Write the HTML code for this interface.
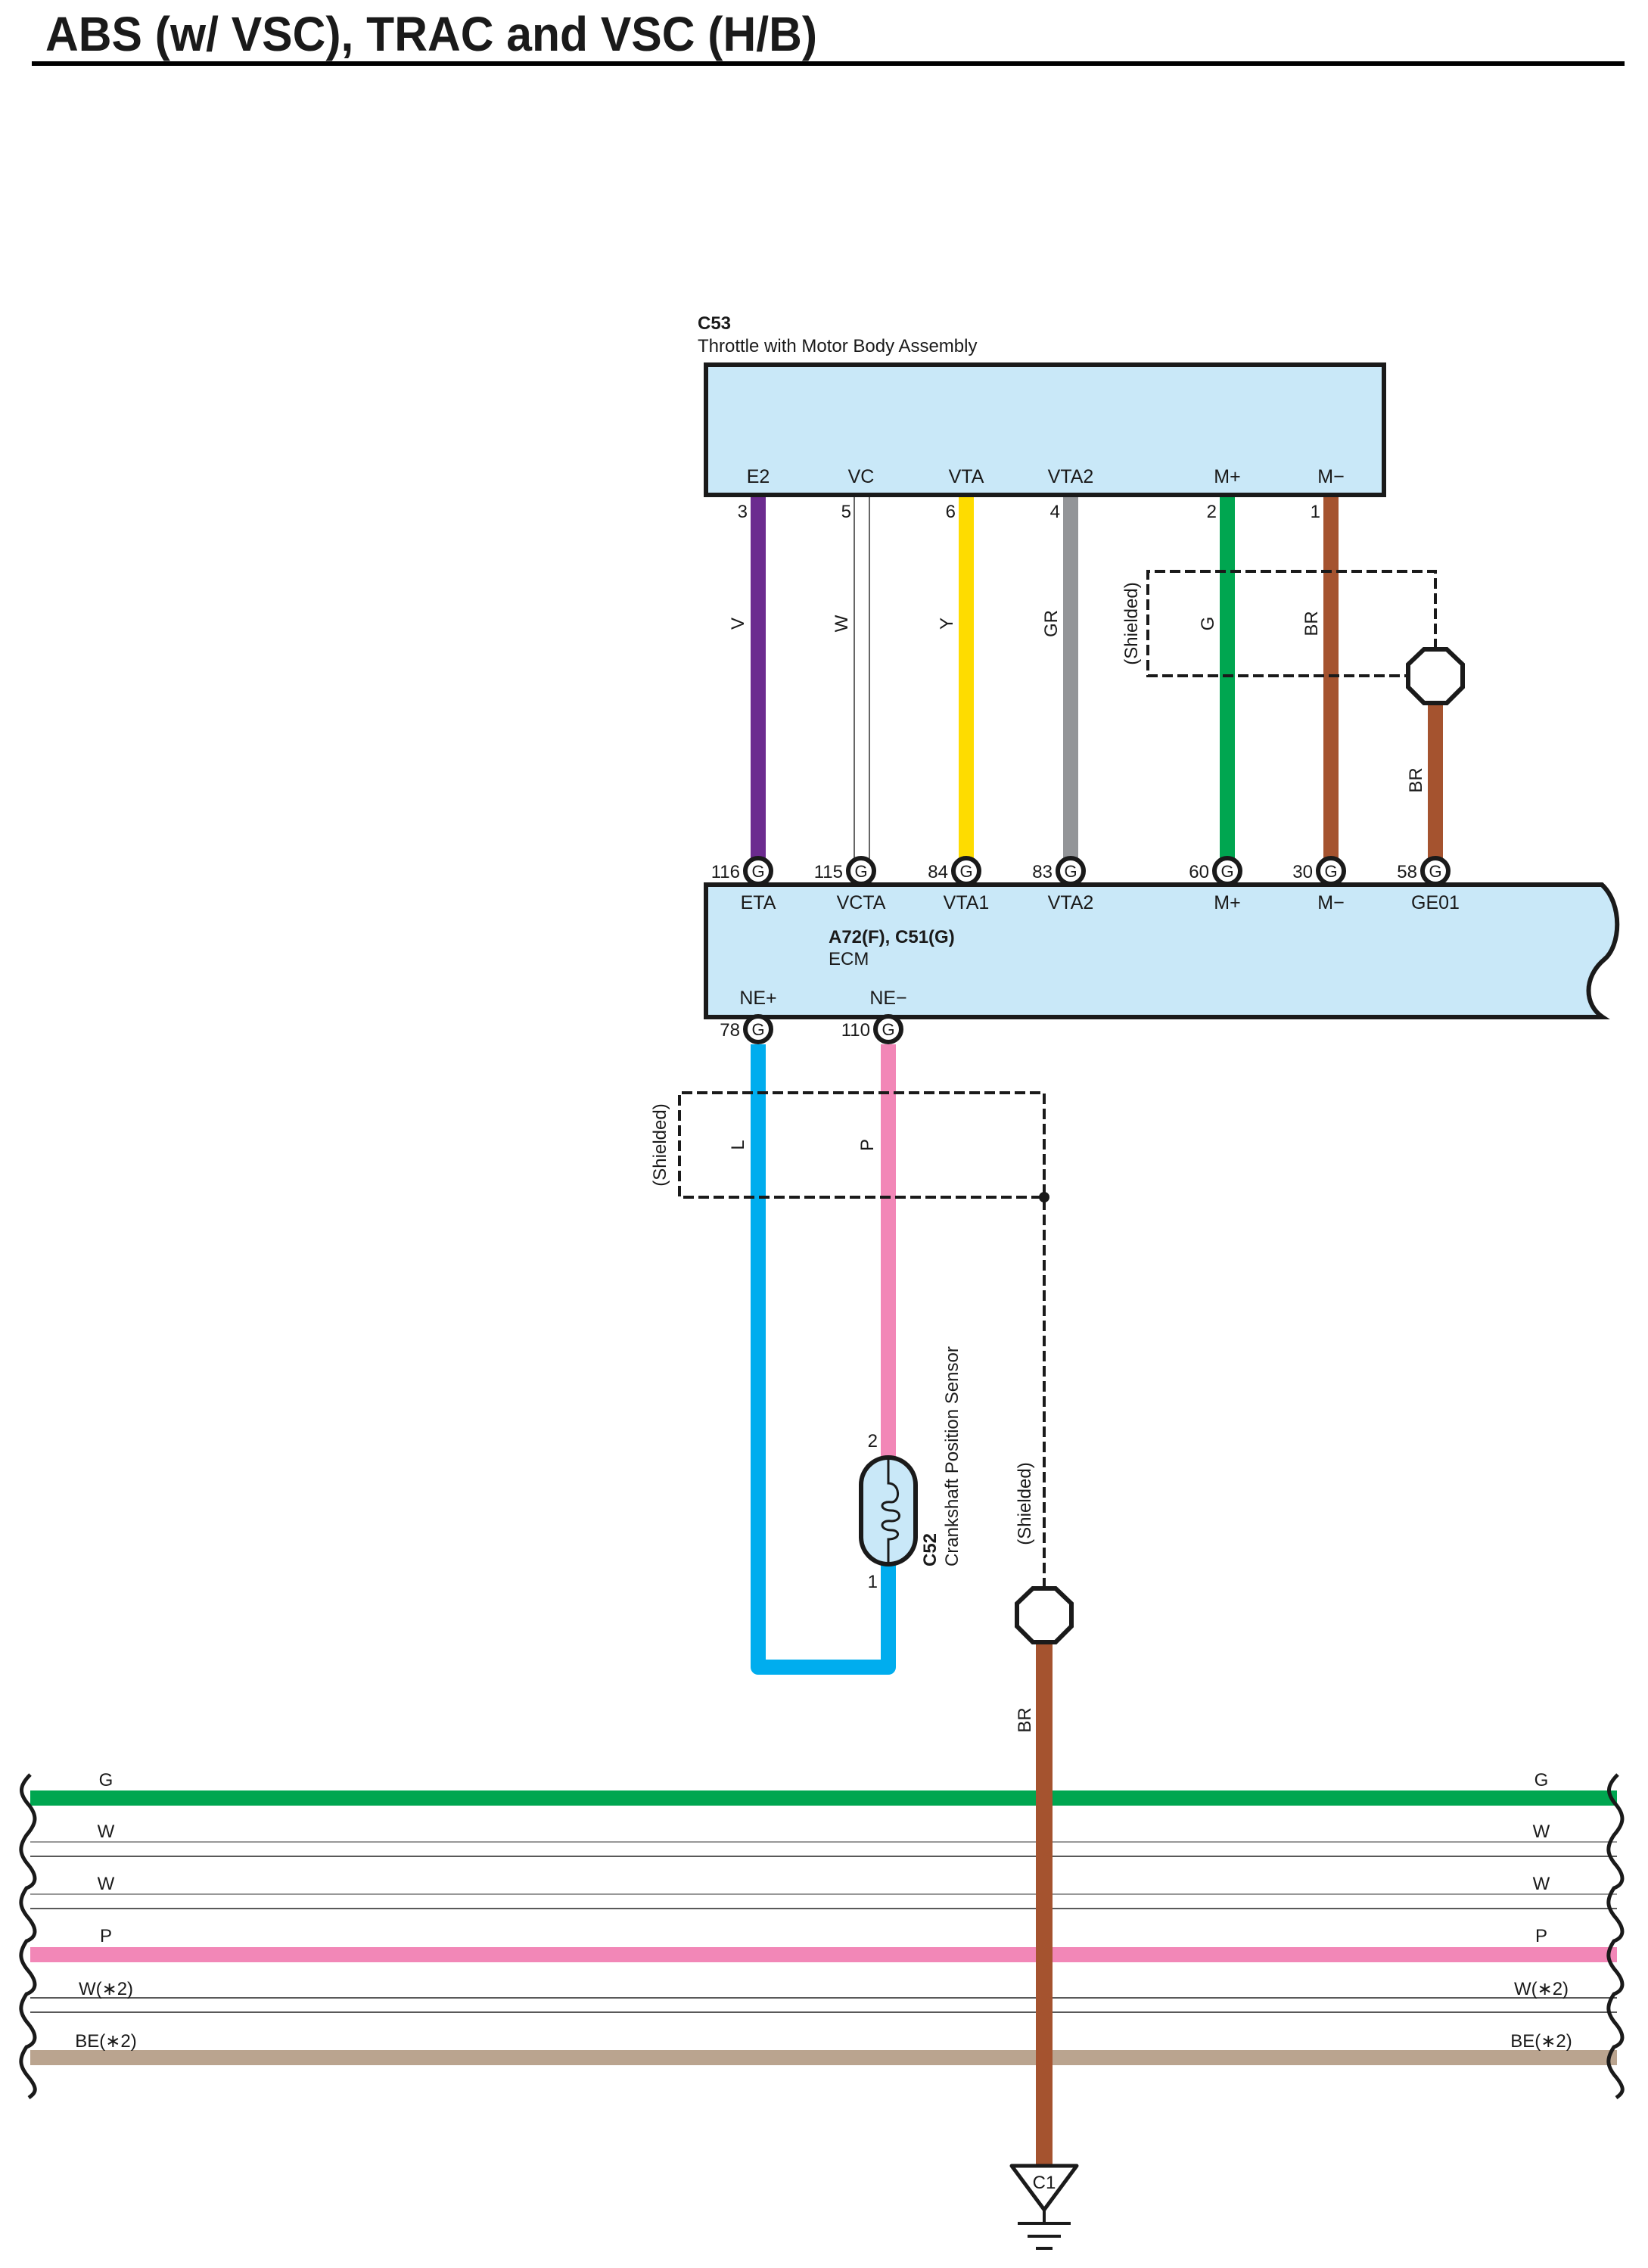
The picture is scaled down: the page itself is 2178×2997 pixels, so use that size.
<!DOCTYPE html>
<html><head><meta charset="utf-8"><style>body{margin:0;background:#fff}svg{display:block}text{font-family:"Liberation Sans",sans-serif;fill:#1a1a1a}</style></head><body>
<svg width="2178" height="2997" viewBox="0 0 2178 2997" xmlns="http://www.w3.org/2000/svg">
<text x="60" y="67" font-size="64" font-weight="bold" textLength="1020" lengthAdjust="spacingAndGlyphs" fill="#000">ABS (w/ VSC), TRAC and VSC (H/B)</text>
<rect x="42" y="81" width="2105" height="6" fill="#000"/>

<text x="922" y="435" font-size="24" font-weight="bold">C53</text>
<text x="922" y="465" font-size="24">Throttle with Motor Body Assembly</text>
<rect x="933" y="482" width="896" height="172" fill="#c9e8f8" stroke="#1a1a1a" stroke-width="6"/>
<g font-size="25" text-anchor="middle">
<text x="1002" y="638">E2</text><text x="1138" y="638">VC</text><text x="1277" y="638">VTA</text><text x="1415" y="638">VTA2</text><text x="1622" y="638">M+</text><text x="1759" y="638">M−</text>
</g>
<rect x="992" y="657" width="20" height="494" fill="#6c2b8f"/>
<line x1="1129" y1="657" x2="1129" y2="1151" stroke="#333" stroke-width="1.5"/>
<line x1="1149" y1="657" x2="1149" y2="1151" stroke="#333" stroke-width="1.5"/>
<rect x="1267" y="657" width="20" height="494" fill="#fedc00"/>
<rect x="1405" y="657" width="20" height="494" fill="#939598"/>
<rect x="1612" y="657" width="20" height="494" fill="#00a650"/>
<rect x="1749" y="657" width="20" height="494" fill="#a5532f"/>
<rect x="1887" y="893" width="20" height="258" fill="#a5532f"/>
<g font-size="24" text-anchor="end">
<text x="988" y="684">3</text><text x="1125" y="684">5</text><text x="1263" y="684">6</text><text x="1401" y="684">4</text><text x="1608" y="684">2</text><text x="1745" y="684">1</text>
</g>
<path d="M1897,858 L1897,755 L1517,755 L1517,893 L1861,893" fill="none" stroke="#1a1a1a" stroke-width="4" stroke-dasharray="14,6"/>
<polygon points="1882,858 1912,858 1933,878 1933,908 1912,929 1882,929 1861,908 1861,878" fill="#fff" stroke="#1a1a1a" stroke-width="6"/>
<g font-size="24" text-anchor="middle">
<text transform="translate(983,824) rotate(-90)">V</text>
<text transform="translate(1120,824) rotate(-90)">W</text>
<text transform="translate(1259,824) rotate(-90)">Y</text>
<text transform="translate(1397,824) rotate(-90)">GR</text>
<text transform="translate(1503,824) rotate(-90)">(Shielded)</text>
<text transform="translate(1604,824) rotate(-90)">G</text>
<text transform="translate(1741,824) rotate(-90)">BR</text>
<text transform="translate(1879,1031) rotate(-90)">BR</text>
</g>

<path d="M933,1169 L2117,1169 C2145,1195 2142,1250 2120,1268 C2092,1292 2094,1328 2118,1344 L933,1344 Z" fill="#c9e8f8" stroke="#1a1a1a" stroke-width="6"/>
<g font-size="25" text-anchor="middle">
<text x="1002" y="1201">ETA</text><text x="1138" y="1201">VCTA</text><text x="1277" y="1201">VTA1</text><text x="1415" y="1201">VTA2</text><text x="1622" y="1201">M+</text><text x="1759" y="1201">M−</text><text x="1897" y="1201">GE01</text>
<text x="1002" y="1327">NE+</text><text x="1174" y="1327">NE−</text>
</g>
<text x="1095" y="1246" font-size="24" font-weight="bold">A72(F), C51(G)</text>
<text x="1095" y="1275" font-size="24">ECM</text>

<g stroke="#1a1a1a" stroke-width="6" fill="#fff">
<circle cx="1002" cy="1151" r="17"/><circle cx="1138" cy="1151" r="17"/><circle cx="1277" cy="1151" r="17"/><circle cx="1415" cy="1151" r="17"/><circle cx="1622" cy="1151" r="17"/><circle cx="1759" cy="1151" r="17"/><circle cx="1897" cy="1151" r="17"/>
<circle cx="1002" cy="1360" r="17"/><circle cx="1174" cy="1360" r="17"/>
</g>
<g font-size="22" text-anchor="middle">
<text x="1002" y="1159">G</text><text x="1138" y="1159">G</text><text x="1277" y="1159">G</text><text x="1415" y="1159">G</text><text x="1622" y="1159">G</text><text x="1759" y="1159">G</text><text x="1897" y="1159">G</text>
<text x="1002" y="1368">G</text><text x="1174" y="1368">G</text>
</g>
<g font-size="24" text-anchor="end">
<text x="978" y="1160">116</text><text x="1114" y="1160">115</text><text x="1253" y="1160">84</text><text x="1391" y="1160">83</text><text x="1598" y="1160">60</text><text x="1735" y="1160">30</text><text x="1873" y="1160">58</text>
<text x="978" y="1369">78</text><text x="1150" y="1369">110</text>
</g>

<path d="M1002,1380 L1002,2203 L1174,2203 L1174,2067" fill="none" stroke="#00adee" stroke-width="20" stroke-linejoin="round"/>
<rect x="1164" y="1380" width="20" height="546" fill="#f287b7"/>
<path d="M1380,2099 L1380,1444 L898,1444 L898,1582 L1380,1582" fill="none" stroke="#1a1a1a" stroke-width="4" stroke-dasharray="14,6"/>
<circle cx="1380" cy="1582" r="7" fill="#1a1a1a"/>
<g font-size="24" text-anchor="middle">
<text transform="translate(983,1513) rotate(-90)">L</text>
<text transform="translate(1154,1513) rotate(-90)">P</text>
<text transform="translate(880,1513) rotate(-90)">(Shielded)</text>
<text transform="translate(1362,1987) rotate(-90)">(Shielded)</text>
<text transform="translate(1362,2273) rotate(-90)">BR</text>
</g>
<text x="1160" y="1912" font-size="24" text-anchor="end">2</text>
<text x="1160" y="2098" font-size="24" text-anchor="end">1</text>
<rect x="1138" y="1926" width="72" height="141" rx="36" fill="#c9e8f8" stroke="#1a1a1a" stroke-width="6"/>
<path d="M1174,1926 L1174,1960 C1190,1960 1190,1985 1178,1985 C1162,1983 1162,1996 1178,1996 C1192,1996 1192,2010 1178,2010 C1162,2008 1162,2022 1178,2022 C1190,2022 1190,2034 1174,2034 L1174,2067" fill="none" stroke="#1a1a1a" stroke-width="3"/>
<text transform="translate(1237,2070) rotate(-90)" font-size="24" font-weight="bold">C52</text>
<text transform="translate(1266,2070) rotate(-90)" font-size="24">Crankshaft Position Sensor</text>

<rect x="40" y="2366" width="2097" height="20" fill="#00a650"/>
<g stroke-width="1.5">
<line x1="40" y1="2434" x2="2137" y2="2434" stroke="#777"/><line x1="40" y1="2453" x2="2137" y2="2453" stroke="#222"/>
<line x1="40" y1="2503" x2="2137" y2="2503" stroke="#777"/><line x1="40" y1="2522" x2="2137" y2="2522" stroke="#222"/>
<line x1="40" y1="2640" x2="2137" y2="2640" stroke="#222"/><line x1="40" y1="2659" x2="2137" y2="2659" stroke="#222"/>
</g>
<rect x="40" y="2573" width="2097" height="20" fill="#f287b7"/>
<rect x="40" y="2709" width="2097" height="20" fill="#baa48f"/>
<g font-size="24" text-anchor="middle">
<text x="140" y="2360">G</text><text x="140" y="2428">W</text><text x="140" y="2497">W</text><text x="140" y="2566">P</text><text x="140" y="2636">W(∗2)</text><text x="140" y="2705">BE(∗2)</text>
<text x="2037" y="2360">G</text><text x="2037" y="2428">W</text><text x="2037" y="2497">W</text><text x="2037" y="2566">P</text><text x="2037" y="2636">W(∗2)</text><text x="2037" y="2705">BE(∗2)</text>
</g>
<g fill="none" stroke="#1a1a1a" stroke-width="5">
<path d="M40,2345 C25,2360 25,2370 38,2385 C50,2400 48,2410 35,2425 C25,2440 25,2450 38,2465 C50,2480 48,2490 35,2495 C25,2510 25,2520 38,2535 C50,2550 48,2560 35,2565 C25,2580 25,2590 38,2605 C50,2620 48,2630 35,2635 C25,2650 25,2660 38,2675 C50,2690 48,2700 35,2705 C25,2720 25,2730 38,2745 C50,2760 48,2765 38,2772"/>
<path d="M2138,2345 C2123,2360 2123,2370 2136,2385 C2148,2400 2146,2410 2133,2425 C2123,2440 2123,2450 2136,2465 C2148,2480 2146,2490 2133,2495 C2123,2510 2123,2520 2136,2535 C2148,2550 2146,2560 2133,2565 C2123,2580 2123,2590 2136,2605 C2148,2620 2146,2630 2133,2635 C2123,2650 2123,2660 2136,2675 C2148,2690 2146,2700 2133,2705 C2123,2720 2123,2730 2136,2745 C2148,2760 2146,2765 2136,2772"/>
</g>

<rect x="1369" y="2160" width="22" height="700" fill="#a5532f"/>
<polygon points="1365,2099 1395,2099 1416,2119 1416,2149 1395,2170 1365,2170 1344,2149 1344,2119" fill="#fff" stroke="#1a1a1a" stroke-width="6"/>
<polygon points="1337,2862 1423,2862 1380,2920" fill="#fff" stroke="#1a1a1a" stroke-width="5" stroke-linejoin="round"/>
<text x="1380" y="2892" font-size="24" text-anchor="middle">C1</text>
<line x1="1380" y1="2920" x2="1380" y2="2938" stroke="#1a1a1a" stroke-width="4"/>
<line x1="1345" y1="2938" x2="1415" y2="2938" stroke="#1a1a1a" stroke-width="4"/>
<line x1="1358" y1="2955" x2="1402" y2="2955" stroke="#1a1a1a" stroke-width="4"/>
<line x1="1369" y1="2971" x2="1391" y2="2971" stroke="#1a1a1a" stroke-width="4"/>
</svg>
</body></html>
